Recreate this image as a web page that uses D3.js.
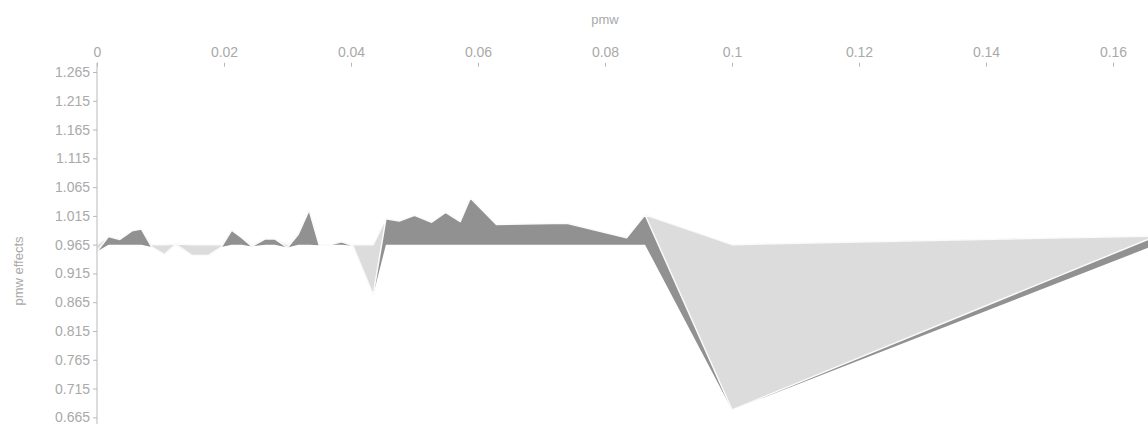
<!DOCTYPE html>
<html>
<head>
<meta charset="utf-8">
<script src="https://cdn.jsdelivr.net/npm/d3@7"></script>
<style>
  html, body { margin: 0; padding: 0; background: #fff; overflow: hidden; }
  svg { display: block; font-family: "Liberation Sans", Arial, sans-serif; }
  .tick text { fill: #a9a9a9; font-size: 14px; }
  .tick line { stroke: #b9b9b9; }
</style>
</head>
<body>
<svg id="chart" width="1148" height="424"></svg>
<script>
// ---- data ----
const pmw = [0, 0.0018, 0.0036, 0.0055, 0.0070, 0.0086, 0.0106, 0.0124, 0.0150, 0.0175,
             0.0196, 0.0212, 0.0228, 0.0244, 0.0265, 0.0280, 0.0300, 0.0317, 0.0334, 0.0350,
             0.0367, 0.0385, 0.0403, 0.0435, 0.0455, 0.0476, 0.0500, 0.0527, 0.0549, 0.0572,
             0.0588, 0.0629, 0.0740, 0.0834, 0.0863, 0.1000, 0.1668];
const pmwEffects = [0.953, 0.979, 0.974, 0.989, 0.992, 0.961, 0.948, 0.966, 0.946, 0.946,
                    0.961, 0.990, 0.977, 0.962, 0.975, 0.975, 0.960, 0.983, 1.025, 0.964,
                    0.965, 0.970, 0.963, 0.878, 1.010, 1.006, 1.016, 1.004, 1.021, 1.005,
                    1.046, 1.000, 1.002, 0.977, 1.017, 0.678, 0.980];
const baseline = 0.965;
const xTicks = [0, 0.02, 0.04, 0.06, 0.08, 0.1, 0.12, 0.14, 0.16];
const yTicks = [0.665, 0.715, 0.765, 0.815, 0.865, 0.915, 0.965, 1.015, 1.065, 1.115, 1.165, 1.215, 1.265];
const xLabel = "pmw";
const yLabel = "pmw effects";

// ---- chart ----
const svg = d3.select("#chart");
const x = d3.scaleLinear().domain([0, 0.16]).range([97, 1113]);
const y = d3.scaleLinear().domain([0.665, 1.265]).range([417.3, 72]);

const data = pmw.map((p, i) => ({ x: p, v: pmwEffects[i] }));

const darkArea = d3.area()
  .x(d => x(d.x))
  .y0(d => y(Math.min(d.v, baseline)))
  .y1(d => y(Math.max(d.v, baseline)));

const lightArea = d3.area()
  .x(d => x(d.x))
  .y0(d => y(Math.max(d.v, baseline)))
  .y1(d => y(d.v));

svg.append("path")
  .datum(data)
  .attr("d", darkArea)
  .attr("fill", "#919191");

svg.append("path")
  .datum(data)
  .attr("d", lightArea)
  .attr("fill", "#dcdcdc")
  .attr("stroke", "#fafafa")
  .attr("stroke-width", 1.5)
  .attr("stroke-linejoin", "round");

// x axis (top)
const gx = svg.append("g")
  .attr("transform", "translate(0,66.7)")
  .call(d3.axisTop(x).tickValues(xTicks).tickSize(4).tickPadding(6).tickFormat(d3.format("")));
gx.select(".domain").remove();

// y axis (left)
const gy = svg.append("g")
  .attr("transform", "translate(97,0)")
  .call(d3.axisLeft(y).tickValues(yTicks).tickSize(4).tickPadding(3).tickFormat(d3.format(".3f")));
gy.select(".domain").remove();
gy.append("line")
  .attr("x1", 0).attr("x2", 0)
  .attr("y1", 62.7).attr("y2", 430)
  .attr("stroke", "#b9b9b9");

// axis titles
svg.append("text")
  .attr("x", 605).attr("y", 23.5)
  .attr("text-anchor", "middle")
  .attr("fill", "#a9a9a9")
  .style("font-size", "13px")
  .text(xLabel);

svg.append("text")
  .attr("transform", "translate(22.5,271) rotate(-90)")
  .attr("text-anchor", "middle")
  .attr("fill", "#a9a9a9")
  .style("font-size", "13px")
  .text(yLabel);
</script>
</body>
</html>
